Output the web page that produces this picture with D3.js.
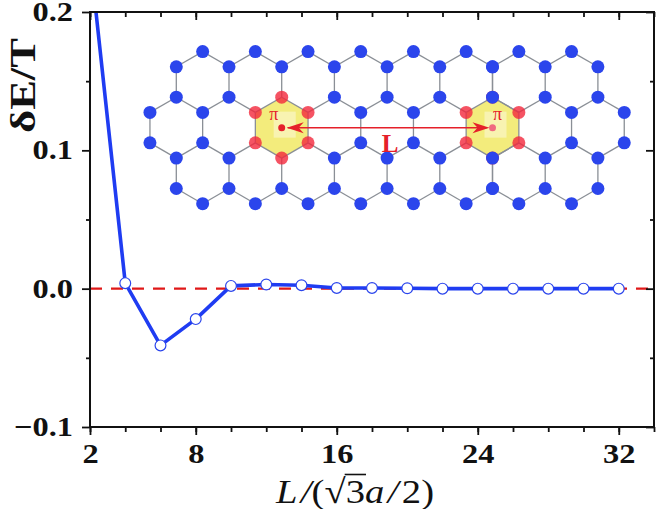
<!DOCTYPE html>
<html lang="en">
<head>
<meta charset="UTF-8">
<title>dE/T vs L</title>
<style>
    body { margin: 0; background: #fff; }
    svg { display: block; }
</style>
</head>
<body>
<svg width="669" height="509"></svg>
<script src="https://d3js.org/d3.v7.min.js"></script>
<script>
    // separation L (in units of sqrt(3)a/2) and energy difference dE/T
    const sepL = [2, 4, 6, 8, 10, 12, 14, 16, 18, 20, 22, 24, 26, 28, 30, 32]
    const dE = [0.24, 0.004, -0.041, -0.022, 0.002, 0.003, 0.0025, 0.0005, 0.0005, 0.0003, 0, 0, 0, 0, 0, 0]

    const xTickLabels = [2, 8, 16, 24, 32]
    const xMinorTicks = d3.range(2, 35, 2)
    const yTickLabels = [-0.1, 0.0, 0.1, 0.2]
    const yMinorTicks = [-0.05, 0.05, 0.15]

    // inset lattice: hexagon rows (row index, first column, number of hexagons)
    const hexRows = [[0, 0.5, 8], [1, 0, 9], [2, 0.5, 8]]
    const piHexes = [[1, 2], [1, 6]]

    const svg = d3.select('svg')
    const pLeft = 90, pRight = 654, pTop = 12, pBottom = 427

    const x = d3.scaleLinear().domain([2, 34]).range([pLeft, pRight])
    const y = d3.scaleLinear().domain([-0.1, 0.2]).range([pBottom, pTop])

    const serif = '"Liberation Serif", "Times New Roman", serif'

    // ---------- inset lattice ----------
    const hexW = 52.7
    const s = hexW / Math.sqrt(3)
    const lx = d3.scaleLinear().domain([0, 1]).range([176.3, 176.3 + hexW])
    const ly = d3.scaleLinear().domain([0, 1]).range([82, 82 + 1.5 * s])

    const corners = (cx, cy) => d3.range(6).map(i => {
        const a = (-90 + 60 * i) * Math.PI / 180
        return [cx + s * Math.cos(a), cy + s * Math.sin(a)]
    })

    const hexes = []
    hexRows.forEach(([r, c0, n]) => {
        d3.range(n).forEach(k => {
            const c = c0 + k
            const pi = piHexes.some(p => p[0] === r && p[1] === c)
            hexes.push({ cx: lx(c), cy: ly(r), pi: pi })
        })
    })

    const key = p => Math.round(p[0]) + ',' + Math.round(p[1])
    const atoms = new Map()
    const bonds = new Map()
    hexes.forEach(h => {
        const pts = corners(h.cx, h.cy)
        pts.forEach((p, i) => {
            const k = key(p)
            if (!atoms.has(k)) atoms.set(k, { x: p[0], y: p[1], pi: false })
            if (h.pi) atoms.get(k).pi = true
            const q = pts[(i + 1) % 6]
            const bk = [key(p), key(q)].sort().join('|')
            if (!bonds.has(bk)) bonds.set(bk, [p, q])
        })
    })

    const inset = svg.append('g')

    inset.selectAll('path.pihex')
        .data(hexes.filter(h => h.pi)).enter()
        .append('path')
            .attr('d', h => 'M' + corners(h.cx, h.cy).join('L') + 'Z')
            .attr('fill', '#f3ec7c')

    inset.selectAll('rect.glow')
        .data(hexes.filter(h => h.pi)).enter()
        .append('rect')
            .attr('x', h => h.cx - 8)
            .attr('y', h => h.cy - 16)
            .attr('width', 22)
            .attr('height', 26)
            .attr('fill', '#fbf8d6')
            .attr('opacity', 0.6)

    inset.selectAll('line.bond')
        .data(Array.from(bonds.values())).enter()
        .append('line')
            .attr('x1', d => d[0][0]).attr('y1', d => d[0][1])
            .attr('x2', d => d[1][0]).attr('y2', d => d[1][1])
            .attr('stroke', '#8a8f96')
            .attr('stroke-width', 1.3)

    inset.selectAll('circle.atom')
        .data(Array.from(atoms.values())).enter()
        .append('circle')
            .attr('cx', d => d.x)
            .attr('cy', d => d.y)
            .attr('r', 6.5)
            .attr('fill', d => d.pi ? '#f2283c' : '#2b45ec')
            .attr('fill-opacity', d => d.pi ? 0.8 : 1)

    // arrow between the two pi centres
    const piPos = hexes.filter(h => h.pi)
    const red = '#e5202a'
    const ay = piPos[0].cy
    const x1 = piPos[0].cx, x2 = piPos[1].cx
    inset.append('line')
        .attr('x1', x1 + 6).attr('x2', x2 - 6)
        .attr('y1', ay).attr('y2', ay)
        .attr('stroke', red).attr('stroke-width', 1.5)
    const head = (tip, dir) => {
        const bx = tip + dir * 17
        return `M${tip},${ay}L${bx},${ay - 5.5}L${bx - dir * 5},${ay}L${bx},${ay + 5.5}Z`
    }
    inset.append('path').attr('d', head(x1 + 5, 1)).attr('fill', red)
    inset.append('path').attr('d', head(x2 - 3, -1)).attr('fill', red)
    inset.append('circle').attr('cx', x1).attr('cy', ay).attr('r', 3.5).attr('fill', red)
    inset.append('circle').attr('cx', x2).attr('cy', ay).attr('r', 3.5).attr('fill', '#f06a80')

    inset.selectAll('text.pi')
        .data(piPos).enter()
        .append('text')
            .attr('x', (d, i) => i === 0 ? d.cx - 8 : d.cx + 5)
            .attr('y', d => d.cy - 8)
            .attr('text-anchor', 'middle')
            .attr('font-family', serif)
            .attr('font-size', 18)
            .attr('fill', red)
            .text('π')

    inset.append('text')
        .attr('x', (x1 + x2) / 2 + 3)
        .attr('y', ay + 24)
        .attr('text-anchor', 'middle')
        .attr('font-family', serif)
        .attr('font-weight', 'bold')
        .attr('font-size', 25)
        .attr('fill', red)
        .text('L')

    // ---------- data ----------
    svg.append('clipPath').attr('id', 'plot')
        .append('rect')
            .attr('x', pLeft).attr('y', pTop)
            .attr('width', pRight - pLeft).attr('height', pBottom - pTop)

    svg.append('line')
        .attr('x1', pLeft).attr('x2', pRight)
        .attr('y1', y(0)).attr('y2', y(0))
        .attr('stroke', '#e01818')
        .attr('stroke-width', 2.2)
        .attr('stroke-dasharray', '12,9')

    const pts = sepL.map((d, i) => [d, dE[i]])
    const plot = svg.append('g').attr('clip-path', 'url(#plot)')
    plot.append('path')
        .datum(pts)
        .attr('d', d3.line().x(d => x(d[0])).y(d => y(d[1])))
        .attr('fill', 'none')
        .attr('stroke', '#1f3cf2')
        .attr('stroke-width', 3.6)
        .attr('stroke-linejoin', 'round')

    plot.selectAll('circle')
        .data(pts.slice(1)).enter()
        .append('circle')
            .attr('cx', d => x(d[0]))
            .attr('cy', d => y(d[1]))
            .attr('r', 5.4)
            .attr('fill', '#fff')
            .attr('stroke', '#2b45ec')
            .attr('stroke-width', 1.2)

    // ---------- axes ----------
    const fmtY = d => d === 0 ? '0.0' : d3.format('.1f')(d)
    const styleAxis = g => {
        g.select('.domain').remove()
        g.selectAll('line').attr('stroke', '#111').attr('stroke-width', 1.8)
        g.selectAll('text')
            .attr('font-family', serif)
            .attr('font-weight', 'bold')
            .attr('font-size', 27)
            .attr('fill', '#111')
            .each(function() {
                // the reference digits are a little wider than the font
                const w = this.getComputedTextLength()
                d3.select(this).attr('textLength', w * 1.2).attr('lengthAdjust', 'spacingAndGlyphs')
            })
    }

    svg.append('g').attr('transform', `translate(0,${pBottom})`)
        .call(d3.axisBottom(x).tickValues(xMinorTicks).tickSize(5).tickFormat(''))
        .call(styleAxis)
    svg.append('g').attr('transform', `translate(0,${pBottom})`)
        .call(d3.axisBottom(x).tickValues(xTickLabels).tickSize(8).tickPadding(9).tickFormat(d3.format('d')))
        .call(styleAxis)
    svg.append('g').attr('transform', `translate(0,${pTop})`)
        .call(d3.axisTop(x).tickValues(xMinorTicks).tickSize(-5).tickFormat(''))
        .call(styleAxis)
    svg.append('g').attr('transform', `translate(0,${pTop})`)
        .call(d3.axisTop(x).tickValues(xTickLabels).tickSize(-8).tickFormat(''))
        .call(styleAxis)

    svg.append('g').attr('transform', `translate(${pLeft},0)`)
        .call(d3.axisLeft(y).tickValues(yMinorTicks).tickSize(4).tickFormat(''))
        .call(styleAxis)
    svg.append('g').attr('transform', `translate(${pLeft},0)`)
        .call(d3.axisLeft(y).tickValues(yTickLabels).tickSize(8).tickPadding(9).tickFormat(fmtY))
        .call(styleAxis)
    svg.append('g').attr('transform', `translate(${pRight},0)`)
        .call(d3.axisRight(y).tickValues(yMinorTicks).tickSize(-4).tickFormat(''))
        .call(styleAxis)
    svg.append('g').attr('transform', `translate(${pRight},0)`)
        .call(d3.axisRight(y).tickValues(yTickLabels).tickSize(-8).tickFormat(''))
        .call(styleAxis)

    svg.append('rect')
        .attr('x', pLeft).attr('y', pTop)
        .attr('width', pRight - pLeft).attr('height', pBottom - pTop)
        .attr('fill', 'none')
        .attr('stroke', '#111')
        .attr('stroke-width', 2)

    // ---------- axis titles ----------
    svg.append('text')
        .attr('transform', `translate(35,${(38 + 133) / 2}) rotate(-90)`)
        .attr('text-anchor', 'middle')
        .attr('font-family', serif)
        .attr('font-weight', 'bold')
        .attr('font-size', 36)
        .attr('textLength', 95)
        .attr('lengthAdjust', 'spacingAndGlyphs')
        .attr('fill', '#111')
        .text('δE/T')

    const xt = svg.append('text')
        .attr('x', 276)
        .attr('y', 503)
        .attr('font-family', serif)
        .attr('font-size', 34)
        .attr('fill', '#111')
        .attr('textLength', 158)
        .attr('lengthAdjust', 'spacingAndGlyphs')
    xt.append('tspan').attr('font-style', 'italic').text('L')
    xt.append('tspan').attr('font-style', 'italic').attr('dx', 3).text('/')
    xt.append('tspan').text('(')
    xt.append('tspan').text('√')
    xt.append('tspan').text('3')
    xt.append('tspan').attr('font-style', 'italic').text('a')
    xt.append('tspan').attr('font-style', 'italic').attr('dx', 3).text('/')
    xt.append('tspan').attr('dx', 3).text('2)')

    // overline of the square root, from the radical to the end of "3"
    const node = xt.node()
    const full = node.textContent
    const iRad = full.indexOf('√'), i3 = full.indexOf('3')
    const barX1 = node.getEndPositionOfChar(iRad).x - 1
    const barX2 = node.getEndPositionOfChar(i3).x + 1
    const bb = node.getExtentOfChar(iRad)
    svg.append('line')
        .attr('x1', barX1).attr('x2', barX2)
        .attr('y1', bb.y + 1.5).attr('y2', bb.y + 1.5)
        .attr('stroke', '#111')
        .attr('stroke-width', 1.6)
</script>
</body>
</html>
